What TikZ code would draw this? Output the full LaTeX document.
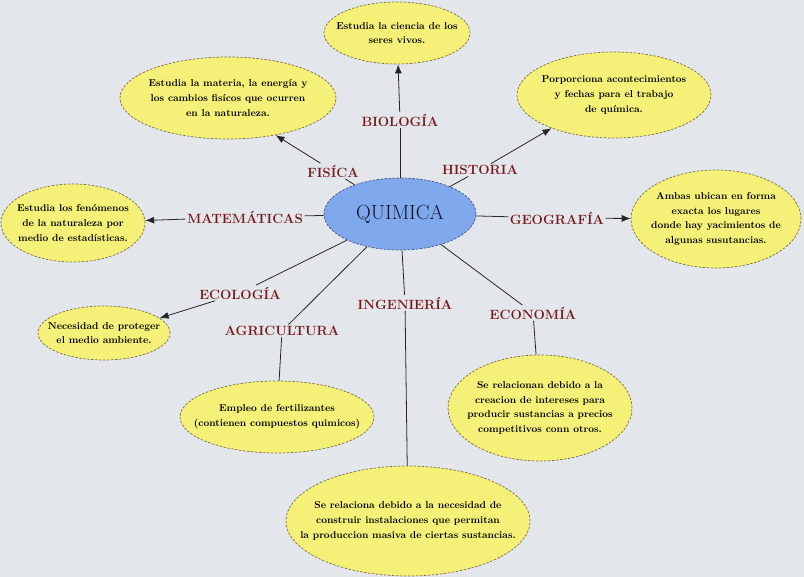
\documentclass[tikz,border=0pt]{standalone}
\usepackage{fontspec}
\usetikzlibrary{shapes.geometric,arrows.meta}
\definecolor{bg}{RGB}{227,231,235}
\definecolor{yel}{RGB}{245,240,120}
\definecolor{yelb}{RGB}{125,110,75}
\definecolor{blu}{RGB}{128,168,236}
\definecolor{blub}{RGB}{70,85,140}
\definecolor{lab}{RGB}{120,24,28}
\definecolor{qtext}{RGB}{15,22,50}
\begin{document}
\begin{tikzpicture}[x=1pt,y=-1pt,
  info/.style={ellipse,draw=yelb,fill=yel,dash pattern=on 2.5pt off 1.5pt,line width=0.7pt,inner sep=0pt},
  txt/.style={align=center,text=black,inner sep=0pt,font=\fontsize{10}{14.8}\selectfont\bfseries},
  topic/.style={text=lab,font=\fontsize{13.4}{15}\selectfont\bfseries,inner sep=1.5pt},
  conn/.style={line width=0.8pt,black!85},
  arr/.style={conn,-{Latex[length=9pt,width=7pt]}}]
\path[fill=bg] (0,0) rectangle (804,577);
\useasboundingbox (0,0) rectangle (804,577);

% central node
\node[ellipse,draw=blub,fill=blu,dash pattern=on 2.5pt off 1.5pt,line width=0.7pt,
      minimum width=152pt,minimum height=72pt,inner sep=0pt,text=qtext,
      font=\fontsize{20.5}{24}\selectfont] (q) at (400,214) {QUIMICA};

% info ellipses
\node[info,minimum width=146pt,minimum height=62pt,
  label={[txt]center:{Estudia la ciencia de los\\seres vivos.}}] (bio) at (397,33) {};
\node[info,minimum width=216pt,minimum height=82pt,
  label={[txt]center:{Estudia la materia, la energía y\\los cambios fisícos que ocurren\\en la naturaleza.}}] (fis) at (228,98) {};
\node[info,minimum width=194pt,minimum height=86pt,
  label={[txt]center:{Porporciona acontecimientos\\y fechas para el trabajo\\de química.}}] (his) at (614,95) {};
\node[info,minimum width=144pt,minimum height=78pt,
  label={[txt]center:{Estudia los fenómenos\\de la naturaleza por\\medio de estadísticas.}}] (mat) at (73,223) {};
\node[info,minimum width=170pt,minimum height=98pt,
  label={[txt]center:{Ambas ubican en forma\\exacta los lugares\\donde hay yacimientos de\\algunas susutancias.}}] (geo) at (716,219) {};
\node[info,minimum width=132pt,minimum height=54pt,
  label={[txt]center:{Necesidad de proteger\\el medio ambiente.}}] (eco) at (104,333) {};
\node[info,minimum width=194pt,minimum height=72pt,
  label={[txt]center:{Empleo de fertilizantes\\(contienen compuestos quimicos)}}] (agr) at (277,417) {};
\node[info,minimum width=184pt,minimum height=106pt,
  label={[txt]center:{Se relacionan debido a la\\creacion de intereses para\\producir sustancias a precios\\competitivos conn otros.}}] (ecn) at (540,408) {};
\node[info,minimum width=244pt,minimum height=110pt,
  label={[txt]center:{Se relaciona debido a la necesidad de\\construir instalaciones que permitan\\la produccion masiva de ciertas sustancias.}}] (ing) at (408,521) {};

% topic labels
\node[topic] (bioL) at (400,120) {BIOLOGÍA};
\node[topic] (fisL) at (333,171) {FISÍCA};
\node[topic] (hisL) at (480,170) {HISTORIA};
\node[topic] (matL) at (245,217) {MATEMÁTICAS};
\node[topic] (geoL) at (557,218) {GEOGRAFÍA};
\node[topic] (ecoL) at (240,293) {ECOLOGÍA};
\node[topic] (agrL) at (282,331) {AGRICULTURA};
\node[topic] (ingL) at (405,303) {INGENIERÍA};
\node[topic] (ecnL) at (533,313) {ECONOMÍA};

% connectors
\draw[conn] (q) -- (bioL);
\draw[arr] (bioL) -- (bio);
\draw[conn] (q) -- (fisL);
\draw[arr] (fisL) -- (fis.322);
\draw[conn] (q) -- (hisL);
\draw[arr] (hisL) -- (his.208);
\draw[conn] (q) -- (matL);
\draw[arr] (matL) -- (mat);
\draw[conn] (q) -- (geoL);
\draw[arr] (geoL) -- (geo);
\draw[conn] (q) -- (ecoL);
\draw[arr] (ecoL) -- (eco.15);
\draw[conn] (q) -- (agrL);
\draw[conn] (agrL) -- (agr);
\draw[conn] (q) -- (ingL);
\draw[conn] (ingL) -- (ing);
\draw[conn] (q) -- (ecnL);
\draw[conn] (ecnL) -- (ecn);
\end{tikzpicture}
\end{document}
